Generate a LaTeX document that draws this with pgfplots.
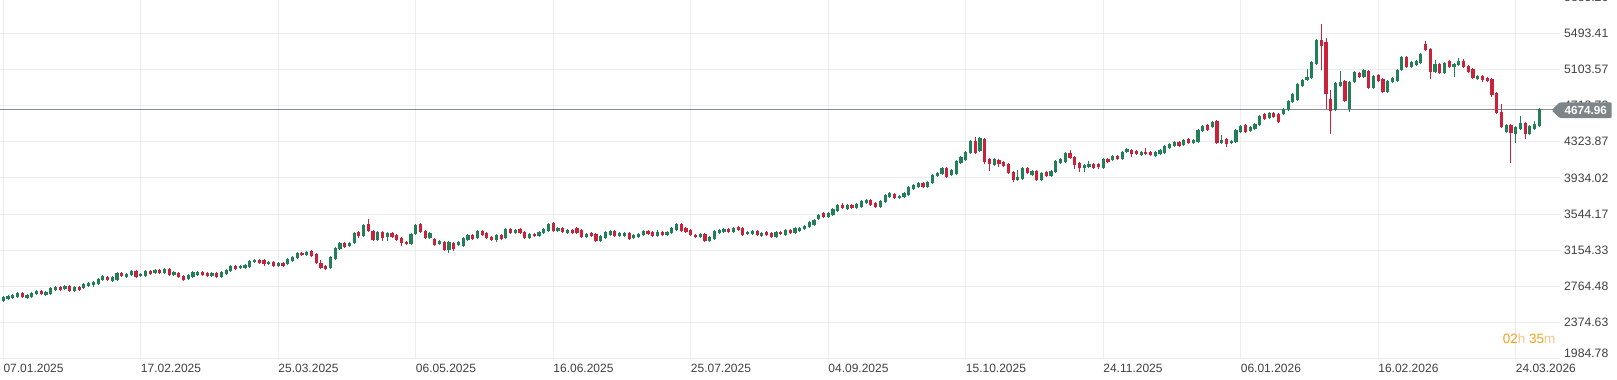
\documentclass[border=0pt]{standalone}
\usepackage{pgfplots}
\pgfplotsset{compat=1.18}
\usepackage{pgfplotstable}
\usepackage{fontspec}
\setmainfont{Liberation Sans}
\definecolor{upc}{RGB}{34,128,88}
\definecolor{dnc}{RGB}{200,35,58}
\definecolor{gridc}{RGB}{236,237,239}
\definecolor{txtc}{RGB}{64,64,64}
\definecolor{pricec}{RGB}{138,142,144}
\definecolor{tagc}{RGB}{125,133,136}
\definecolor{orng}{RGB}{246,160,30}
\definecolor{orngl}{RGB}{246,196,140}

\pgfplotstableread{
i o h l c
0 2611 2657 2601 2647
1 2633 2672 2623 2662
2 2644 2682 2634 2672
3 2654 2700 2644 2690
4 2690 2700 2637 2647
5 2644 2682 2634 2672
6 2654 2700 2644 2690
7 2680 2725 2670 2715
8 2715 2725 2673 2683
9 2676 2711 2666 2701
10 2687 2754 2677 2744
11 2730 2769 2720 2759
12 2759 2769 2720 2730
13 2741 2785 2731 2773
14 2769 2779 2709 2719
15 2719 2769 2709 2759
16 2759 2769 2716 2726
17 2744 2801 2734 2791
18 2769 2808 2759 2798
19 2777 2819 2762 2809
20 2795 2855 2785 2845
21 2830 2884 2820 2874
22 2863 2873 2820 2830
23 2823 2876 2813 2866
24 2838 2920 2828 2910
25 2910 2924 2864 2874
26 2866 2909 2856 2899
27 2892 2937 2882 2927
28 2927 2937 2856 2866
29 2874 2909 2864 2899
30 2881 2937 2871 2927
31 2927 2937 2889 2899
32 2910 2948 2900 2938
33 2938 2948 2903 2913
34 2913 2959 2903 2949
35 2949 2959 2878 2888
36 2888 2927 2878 2917
37 2913 2923 2853 2863
38 2874 2884 2824 2834
39 2841 2898 2831 2888
40 2870 2927 2860 2917
41 2888 2927 2878 2917
42 2917 2927 2878 2888
43 2910 2920 2871 2881
44 2881 2916 2871 2906
45 2906 2916 2860 2870
46 2870 2927 2860 2917
47 2902 2952 2892 2942
48 2927 2991 2917 2981
49 2989 2999 2946 2956
50 2960 2995 2950 2985
51 2967 3006 2957 2996
52 2978 3049 2968 3039
53 3024 3060 3014 3050
54 3046 3056 3011 3021
55 3046 3056 2989 3007
56 3003 3038 2993 3028
57 3028 3038 2979 2989
58 2989 3031 2979 3021
59 3017 3027 2979 2989
60 3003 3067 2993 3057
61 3043 3088 3033 3078
62 3068 3131 3058 3121
63 3129 3139 3090 3100
64 3100 3146 3090 3136
65 3147 3157 3086 3096
66 3114 3124 3007 3021
67 3017 3050 2949 2960
68 2989 2999 2946 2956
69 2960 3092 2950 3082
70 3060 3189 3050 3179
71 3165 3243 3155 3233
72 3233 3243 3183 3193
73 3197 3247 3187 3237
74 3237 3354 3227 3344
75 3348 3362 3283 3312
76 3312 3433 3302 3423
77 3434 3488 3352 3362
78 3362 3372 3255 3265
79 3265 3365 3255 3355
80 3355 3365 3258 3283
81 3301 3351 3258 3341
82 3337 3347 3291 3301
83 3319 3329 3255 3265
84 3283 3293 3201 3229
85 3247 3257 3212 3222
86 3226 3340 3216 3330
87 3326 3433 3316 3423
88 3434 3444 3342 3352
89 3362 3372 3273 3283
90 3287 3347 3277 3337
91 3273 3283 3201 3211
92 3219 3265 3209 3255
93 3244 3254 3147 3157
94 3157 3254 3121 3244
95 3237 3247 3150 3165
96 3208 3254 3198 3244
97 3204 3297 3194 3287
98 3265 3326 3255 3316
99 3319 3329 3266 3276
100 3283 3372 3273 3362
101 3362 3372 3313 3323
102 3341 3351 3273 3283
103 3301 3311 3259 3269
104 3265 3329 3240 3319
105 3319 3329 3270 3280
106 3283 3390 3273 3380
107 3380 3390 3327 3337
108 3337 3383 3327 3373
109 3384 3394 3327 3337
110 3355 3365 3280 3290
111 3290 3340 3280 3330
112 3334 3344 3295 3305
113 3312 3362 3302 3352
114 3341 3397 3331 3387
115 3366 3451 3356 3441
116 3448 3458 3356 3366
117 3362 3401 3352 3391
118 3391 3401 3342 3352
119 3344 3383 3334 3373
120 3373 3383 3327 3337
121 3391 3401 3334 3344
122 3373 3383 3291 3301
123 3301 3336 3291 3326
124 3341 3351 3298 3308
125 3326 3336 3248 3258
126 3255 3322 3245 3312
127 3290 3358 3280 3348
128 3323 3372 3313 3362
129 3362 3372 3295 3305
130 3312 3347 3302 3337
131 3305 3351 3295 3341
132 3341 3351 3270 3280
133 3287 3333 3277 3323
134 3301 3336 3291 3326
135 3316 3369 3306 3359
136 3359 3369 3316 3326
137 3352 3362 3302 3312
138 3312 3373 3302 3355
139 3352 3362 3306 3316
140 3323 3362 3313 3352
141 3337 3405 3327 3395
142 3373 3448 3363 3438
143 3438 3448 3352 3362
144 3391 3401 3338 3348
145 3370 3380 3313 3323
146 3323 3333 3284 3294
147 3301 3340 3291 3330
148 3330 3340 3248 3258
149 3258 3304 3248 3294
150 3273 3369 3263 3359
151 3344 3383 3334 3373
152 3348 3394 3338 3384
153 3380 3390 3345 3355
154 3355 3405 3345 3395
155 3402 3412 3360 3370
156 3395 3405 3313 3323
157 3326 3365 3316 3355
158 3330 3372 3320 3362
159 3362 3372 3313 3323
160 3312 3351 3302 3341
161 3348 3358 3306 3316
162 3337 3347 3291 3301
163 3301 3365 3291 3355
164 3352 3362 3316 3326
165 3319 3383 3309 3373
166 3373 3383 3331 3341
167 3344 3408 3334 3398
168 3362 3401 3352 3391
169 3380 3426 3370 3416
170 3402 3466 3392 3456
171 3427 3491 3417 3481
172 3488 3545 3478 3535
173 3553 3563 3506 3517
174 3517 3570 3507 3560
175 3531 3613 3521 3603
176 3578 3653 3568 3643
177 3646 3661 3600 3610
178 3603 3653 3593 3643
179 3639 3649 3597 3607
180 3610 3660 3600 3650
181 3625 3699 3615 3689
182 3661 3706 3651 3696
183 3696 3706 3636 3646
184 3668 3678 3615 3625
185 3625 3699 3615 3689
186 3675 3757 3665 3747
187 3732 3782 3722 3772
188 3765 3775 3708 3718
189 3722 3753 3712 3743
190 3732 3782 3722 3772
191 3747 3843 3737 3833
192 3811 3872 3801 3862
193 3840 3886 3830 3876
194 3876 3886 3823 3833
195 3833 3904 3823 3894
196 3876 3972 3866 3962
197 3955 3998 3945 3988
198 3973 4055 3963 4045
199 4045 4055 3938 3948
200 3962 4030 3952 4020
201 3977 4123 3967 4113
202 4099 4170 4089 4160
203 4128 4220 4118 4210
204 4200 4342 4190 4332
205 4332 4372 4190 4200
206 4221 4375 4211 4365
207 4358 4368 4081 4110
208 4135 4145 4006 4085
209 4074 4145 4064 4135
210 4128 4138 4049 4085
211 4106 4116 4053 4063
212 4085 4095 3974 3984
213 3998 4008 3887 3912
214 3912 4020 3902 3948
215 3919 4048 3909 4038
216 4038 4048 3974 3984
217 3966 4023 3956 4013
218 4006 4016 3902 3912
219 3912 4001 3902 3991
220 3998 4008 3945 3955
221 3955 4023 3945 4013
222 3995 4127 3985 4117
223 4099 4145 4089 4135
224 4106 4217 4096 4207
225 4207 4235 4136 4146
226 4164 4174 4027 4074
227 4092 4102 4002 4038
228 4038 4084 3995 4074
229 4056 4120 4046 4088
230 4088 4098 4035 4045
231 4085 4095 4027 4049
232 4045 4148 4035 4138
233 4142 4152 4100 4110
234 4124 4177 4114 4167
235 4171 4181 4128 4138
236 4138 4227 4128 4217
237 4210 4253 4200 4243
238 4232 4242 4164 4189
239 4221 4231 4179 4189
240 4182 4227 4172 4217
241 4217 4253 4179 4189
242 4214 4224 4168 4178
243 4171 4227 4161 4217
244 4189 4242 4179 4232
245 4207 4285 4197 4275
246 4257 4314 4247 4304
247 4282 4332 4272 4322
248 4318 4328 4265 4275
249 4293 4350 4283 4340
250 4351 4361 4297 4307
251 4311 4357 4301 4347
252 4325 4461 4315 4451
253 4437 4504 4427 4494
254 4505 4515 4441 4451
255 4480 4551 4470 4541
256 4545 4555 4301 4311
257 4315 4394 4305 4347
258 4351 4361 4271 4297
259 4307 4346 4297 4336
260 4325 4458 4315 4448
261 4426 4504 4416 4494
262 4505 4515 4423 4433
263 4440 4493 4430 4483
264 4462 4526 4452 4516
265 4509 4616 4499 4606
266 4624 4634 4560 4570
267 4577 4641 4567 4631
268 4631 4641 4585 4595
269 4620 4630 4524 4534
270 4620 4687 4610 4677
271 4667 4774 4657 4764
272 4749 4846 4739 4836
273 4771 4953 4761 4943
274 4929 5000 4919 4990
275 4990 5109 4980 5026
276 5008 5190 4998 5180
277 5159 5431 5149 5421
278 5421 5594 5098 5360
279 5403 5439 4677 4836
280 4785 4882 4404 4656
281 4667 4964 4657 4954
282 4929 5087 4919 4972
283 4979 4989 4754 4764
284 4677 4975 4649 4965
285 4972 5083 4962 5073
286 5069 5079 5009 5019
287 5019 5108 5009 5098
288 5091 5101 4890 4900
289 4900 5047 4890 5037
290 5040 5050 4973 4983
291 4997 5007 4847 4857
292 4857 4989 4847 4979
293 4968 5025 4958 5015
294 4983 5108 4973 5098
295 5098 5244 5088 5234
296 5242 5252 5124 5134
297 5134 5194 5124 5184
298 5155 5208 5145 5198
299 5173 5280 5163 5270
300 5378 5410 5303 5313
301 5321 5331 4997 5080
302 5080 5206 5070 5159
303 5159 5169 5059 5069
304 5069 5180 5059 5170
305 5191 5201 5124 5134
306 5127 5172 5026 5162
307 5148 5227 5138 5198
308 5191 5220 5117 5127
309 5141 5151 5070 5080
310 5105 5115 4998 5008
311 4997 5043 4987 5033
312 5033 5043 4965 4990
313 5012 5022 4969 4979
314 5001 5011 4810 4825
315 4846 4856 4621 4631
316 4649 4731 4470 4480
317 4433 4515 4423 4505
318 4505 4515 4099 4415
319 4408 4497 4307 4487
320 4465 4602 4455 4523
321 4523 4533 4350 4404
322 4404 4504 4394 4494
323 4465 4552 4455 4516
324 4494 4685 4484 4674.96
}\candles

\pgfplotsset{
  candle/.style n args={3}{draw=none, fill=none, mark=none, forget plot,
    restrict expr to domain={\thisrow{c}-\thisrow{o}}{#1},
    error bars/.cd, y dir=both, y explicit, error mark=none,
    error bar style={draw=#2, line width=#3, solid}},
}

\begin{document}
\begin{tikzpicture}[x=1pt,y=1pt]
\begin{axis}[
  at={(0pt,21pt)}, anchor=south west,
  scale only axis, width=1560pt, height=359pt,
  xmin=-0.696, xmax=328.35, ymin=1982.4, ymax=5852.4,
  axis line style={draw=none}, tick style={draw=none}, major tick length=0pt,
  grid=major, major grid style={draw=gridc, line width=1pt},
  clip mode=individual,
  xtick={0,29,58,87,116,145,174,203,232,261,290,319},
  xticklabels={07.01.2025,17.02.2025,25.03.2025,06.05.2025,16.06.2025,25.07.2025,04.09.2025,15.10.2025,24.11.2025,06.01.2026,16.02.2026,24.03.2026},
  xticklabel style={anchor=base west, inner sep=0pt, yshift=-13pt, font=\fontsize{12}{14}\selectfont, text=txtc},
  ytick={2374.63,2764.48,3154.33,3544.17,3934.02,4323.87,4713.72,5103.57,5493.41},
  yticklabels={2374.63,2764.48,3154.33,3544.17,3934.02,4323.87,4713.72,5103.57,5493.41},
  yticklabel pos=right,
  yticklabel style={anchor=west, inner sep=0pt, xshift=4pt, font=\fontsize{12.2}{14}\selectfont, text=txtc},
  extra y ticks={1984.78}, extra y tick labels={1984.78},
  extra y tick style={yticklabel style={yshift=5.5pt}},
]
\addplot[draw=pricec, line width=1.2pt, forget plot] coordinates {(-0.696,4674.96) (328.35,4674.96)};
% wicks
\addplot[candle={0:100000}{upc}{1pt}]
  table[x=i, y expr={(\thisrow{h}+\thisrow{l})/2}, y error expr={(\thisrow{h}-\thisrow{l})/2}] {\candles};
\addplot[candle={-100000:-0.001}{dnc}{1pt}]
  table[x=i, y expr={(\thisrow{h}+\thisrow{l})/2}, y error expr={(\thisrow{h}-\thisrow{l})/2}] {\candles};
% bodies
\addplot[candle={0:100000}{upc}{3.2pt}]
  table[x=i, y expr={(\thisrow{o}+\thisrow{c})/2}, y error expr={max(abs(\thisrow{c}-\thisrow{o})/2,4)}] {\candles};
\addplot[candle={-100000:-0.001}{dnc}{3.2pt}]
  table[x=i, y expr={(\thisrow{o}+\thisrow{c})/2}, y error expr={max(abs(\thisrow{c}-\thisrow{o})/2,4)}] {\candles};
\coordinate (tagpt) at (axis cs:328.35,4674.96);
\end{axis}
\fill[tagc, rounded corners=1.2pt] ([xshift=-8.3pt,yshift=-1pt]tagpt) -- ([xshift=-0.5pt,yshift=6.8pt]tagpt) -- ([xshift=51.7pt,yshift=6.8pt]tagpt) -- ([xshift=51.7pt,yshift=-8.8pt]tagpt) -- ([xshift=-0.5pt,yshift=-8.8pt]tagpt) -- cycle;
\node[text=white, inner sep=0pt, font=\bfseries\fontsize{11.7}{14}\selectfont] at ([xshift=25.8pt,yshift=-1pt]tagpt) {4674.96};
\node[anchor=west, inner sep=0pt, text=txtc, font=\fontsize{12.2}{14}\selectfont] at (1564pt,382.9pt) {5883.26};
\node[inner sep=0pt, font=\fontsize{13.5}{16}\selectfont] at (1529pt,41pt) {\textcolor{orng}{02}\textcolor{orngl}{h} \textcolor{orng}{35}\textcolor{orngl}{m}};
\pgfresetboundingbox
\useasboundingbox (0pt,0pt) rectangle (1617pt,380pt);
\end{tikzpicture}
\end{document}
